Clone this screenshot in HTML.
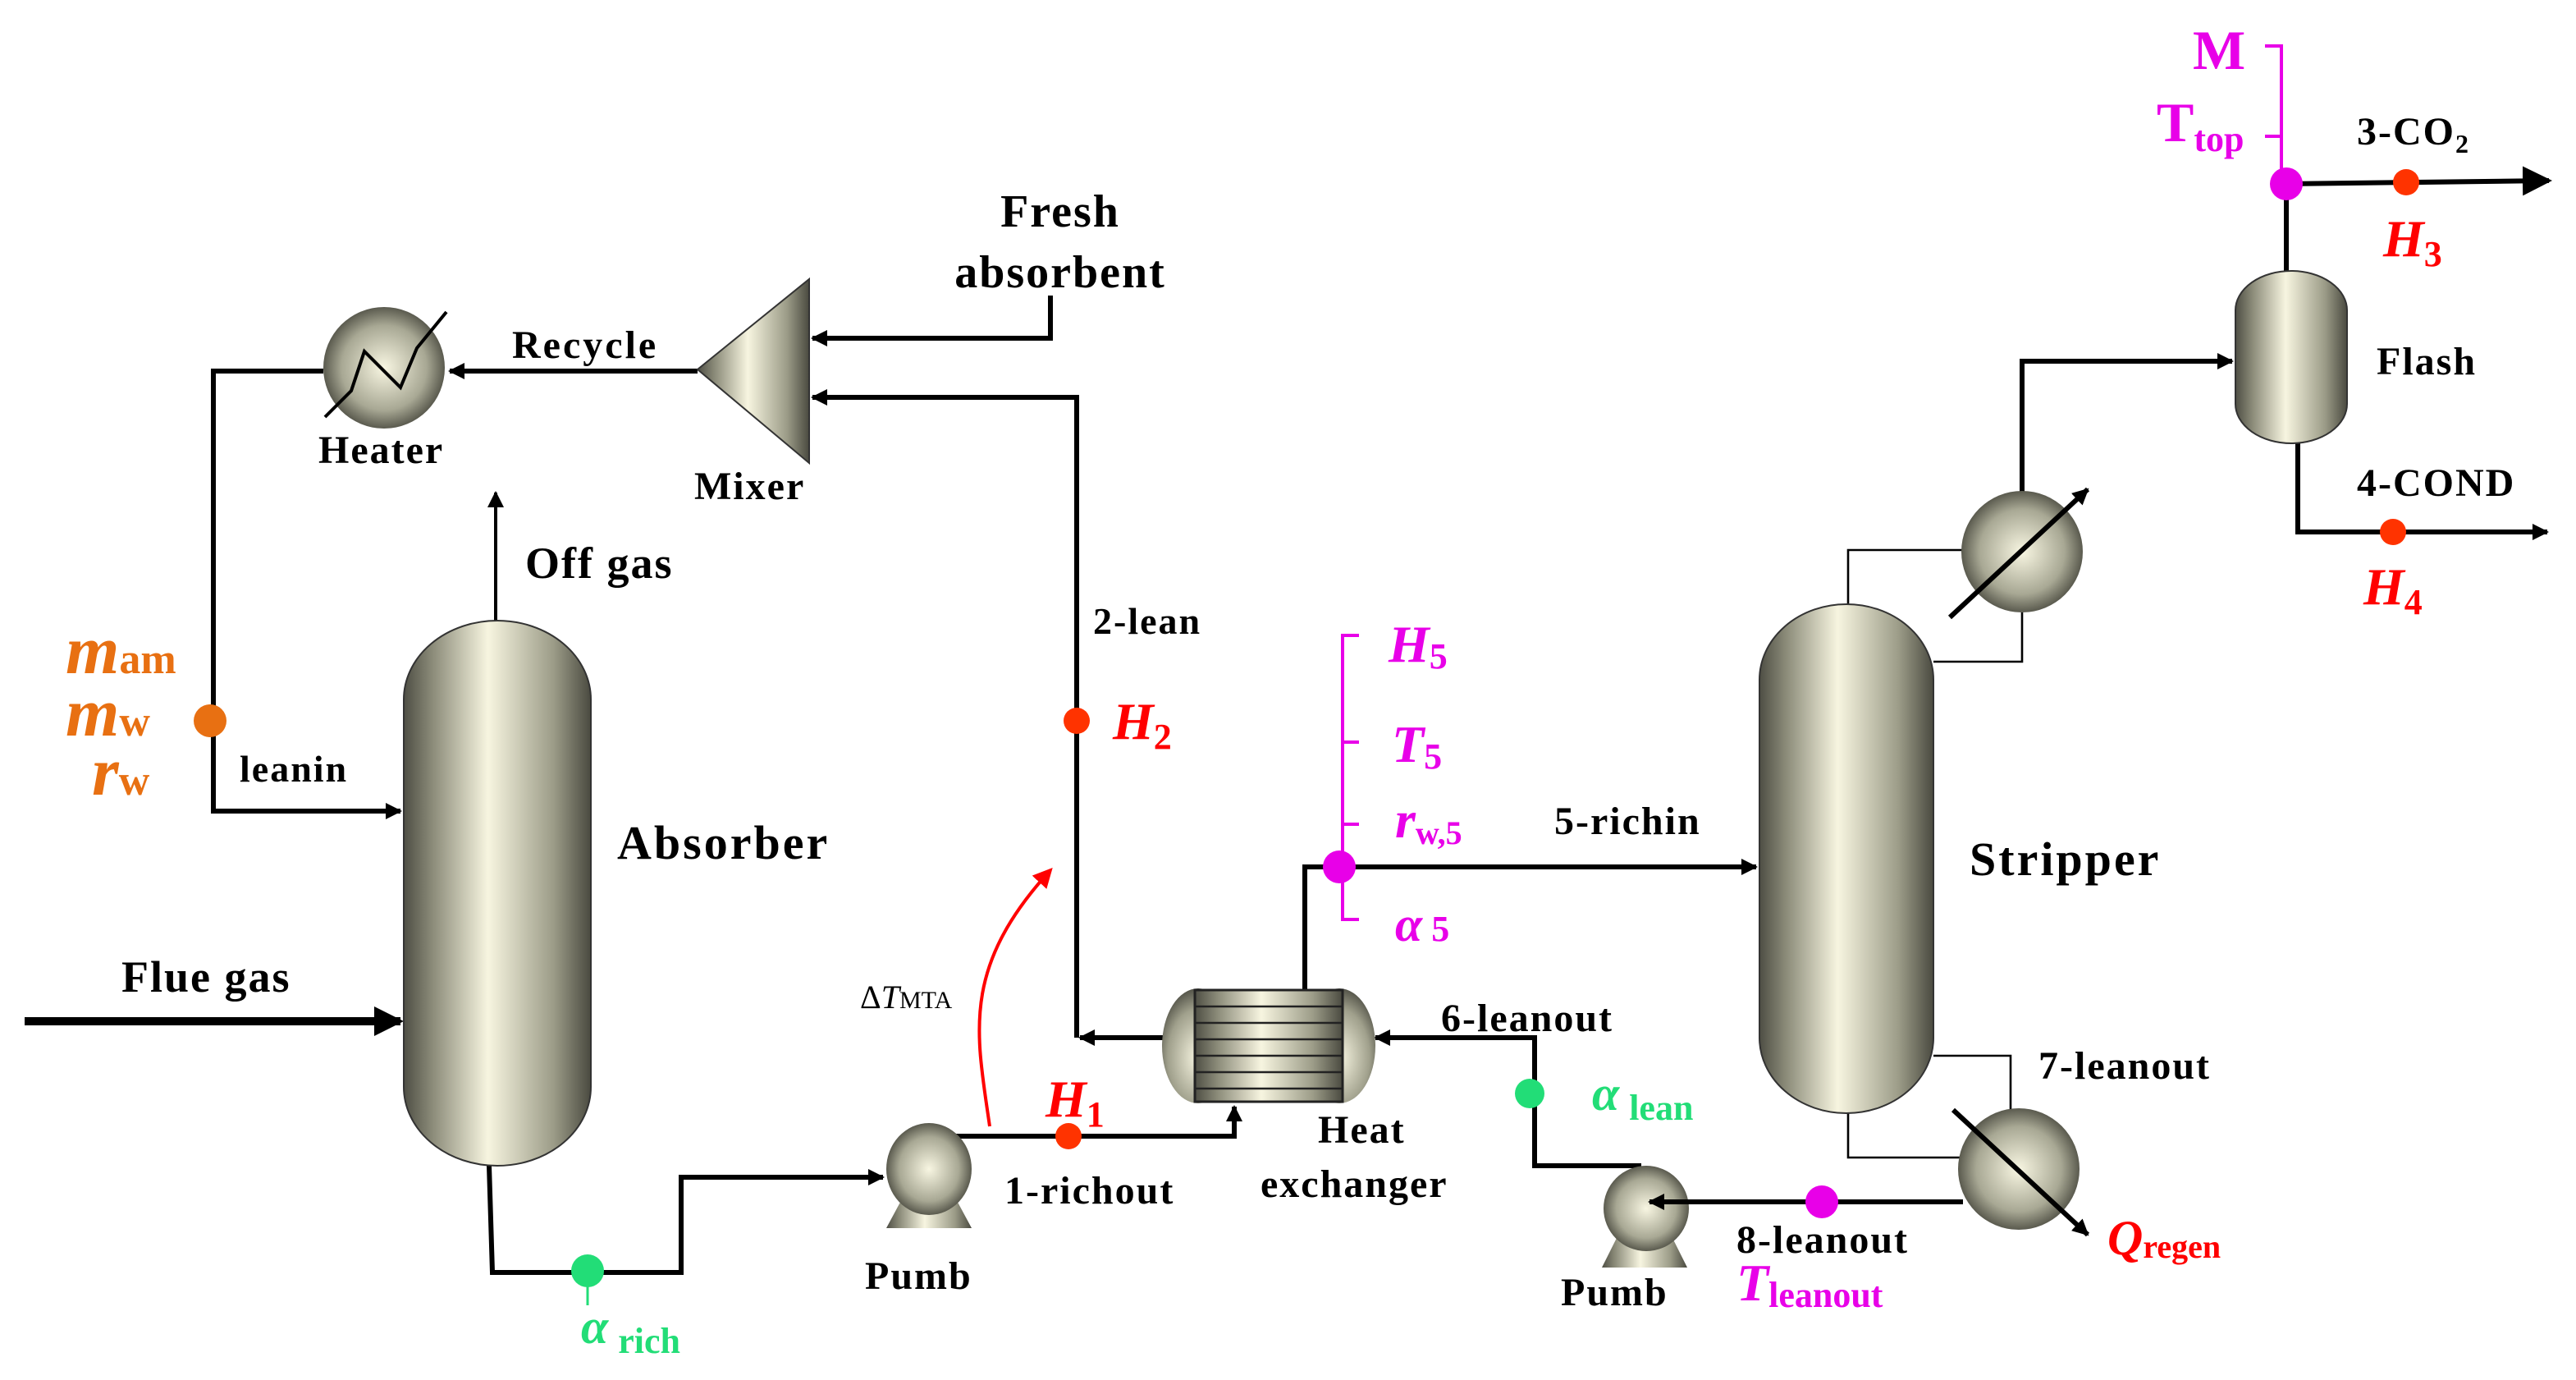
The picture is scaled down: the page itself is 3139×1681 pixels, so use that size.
<!DOCTYPE html>
<html><head><meta charset="utf-8"><style>html,body{margin:0;padding:0;background:#fff}svg{display:block}</style></head><body>
<svg width="3139" height="1681" viewBox="0 0 1569.5 840.5" xmlns="http://www.w3.org/2000/svg" font-family="Liberation Serif, serif" font-weight="bold">
<defs>
<linearGradient id="col" x1="0" x2="1" y1="0" y2="0">
<stop offset="0" stop-color="#4e4e44"/><stop offset="0.15" stop-color="#8a8a78"/><stop offset="0.45" stop-color="#f7f5e0"/><stop offset="0.8" stop-color="#9c9c88"/><stop offset="1" stop-color="#4a4a40"/></linearGradient>
<radialGradient id="sph" cx="0.5" cy="0.5" r="0.5"><stop offset="0" stop-color="#f8f6e2"/><stop offset="0.7" stop-color="#a8a894"/><stop offset="1" stop-color="#5a5a4e"/></radialGradient>
<radialGradient id="cap" cx="0.5" cy="0.6" r="0.6"><stop offset="0" stop-color="#f8f6e2"/><stop offset="0.7" stop-color="#a0a08c"/><stop offset="1" stop-color="#55554a"/></radialGradient>
<marker id="ar" markerWidth="10" markerHeight="10" refX="9" refY="5" orient="auto" markerUnits="userSpaceOnUse"><path d="M0,0 L10,5 L0,10 z" fill="#000"/></marker>
<marker id="arb" markerWidth="18" markerHeight="18" refX="16" refY="9" orient="auto" markerUnits="userSpaceOnUse"><path d="M0,0 L18,9 L0,18 z" fill="#000"/></marker>
<marker id="arr" markerWidth="12" markerHeight="12" refX="10" refY="6" orient="auto" markerUnits="userSpaceOnUse"><path d="M0,0 L12,6 L0,12 z" fill="#f00"/></marker>
</defs>
<g fill="none" stroke="#000" stroke-width="3">
<polyline points="197,226 130,226 130,494 244,494" marker-end="url(#ar)"/>
<polyline points="425,226 274,226" marker-end="url(#ar)"/>
<polyline points="640,180 640,206 495,206" marker-end="url(#ar)"/>
<polyline points="656,632 656,242 495,242" marker-end="url(#ar)"/>
<polyline points="710,632 658,632" marker-end="url(#ar)"/>
<polyline points="302,378 302,300" marker-end="url(#ar)" stroke-width="2"/>
<polyline points="15,622 244,622" marker-end="url(#arb)" stroke-width="5"/>
<polyline points="298,710 300,775 415,775 415,717 538,717" marker-end="url(#ar)"/>
<polyline points="566,692 752,692 752,674" marker-end="url(#ar)"/>
<polyline points="795,603 795,528 1070,528" marker-end="url(#ar)"/>
<polyline points="1000,710 935,710 935,632 838,632" marker-end="url(#ar)"/>
<polyline points="1232,300 1232,220 1360,220" marker-end="url(#ar)"/>
<polyline points="1393,165 1393,112 1553,110" marker-end="url(#arb)"/>
<polyline points="1400,270 1400,324 1552,324" marker-end="url(#ar)"/>
</g>
<g fill="none" stroke="#000" stroke-width="1.3">
<polyline points="1126,370 1126,335 1196,335"/>
<polyline points="1178,403 1232,403 1232,373"/>
<polyline points="1178,643 1225,643 1225,676"/>
<polyline points="1126,676 1126,705 1194,705"/>
</g>
<rect x="246" y="378" width="114" height="332" rx="57" ry="48" fill="url(#col)" stroke="#333" stroke-width="1"/>
<rect x="1072" y="368" width="106" height="310" rx="53" ry="46" fill="url(#col)" stroke="#333" stroke-width="1"/>
<rect x="1362" y="165" width="68" height="105" rx="34" ry="24" fill="url(#col)" stroke="#333" stroke-width="1"/>
<circle cx="234" cy="224" r="37" fill="url(#sph)"/>
<polyline points="198,254 214,238 222,214 244,236 254,212 272,190" fill="none" stroke="#000" stroke-width="2"/>
<polygon points="425,225 493,170 493,282" fill="url(#col)" stroke="#333"/>
<polygon points="540,748 592,748 578,722 554,722" fill="url(#col)"/>
<ellipse cx="566" cy="712" rx="26" ry="28" fill="url(#sph)"/>
<polygon points="976,772 1028,772 1014,744 990,744" fill="url(#col)"/>
<ellipse cx="1003" cy="736" rx="26" ry="26" fill="url(#sph)"/>
<polyline points="1196,732 1005,732" fill="none" stroke="#000" stroke-width="3" marker-end="url(#ar)"/>
<ellipse cx="730" cy="637" rx="22" ry="35" fill="url(#cap)"/>
<ellipse cx="816" cy="637" rx="22" ry="35" fill="url(#cap)"/>
<rect x="728" y="603" width="90" height="68" fill="url(#col)" stroke="#222" stroke-width="1.5"/>
<g stroke="#222" stroke-width="1.2"><line x1="728" y1="613" x2="818" y2="613"/><line x1="728" y1="623" x2="818" y2="623"/><line x1="728" y1="633" x2="818" y2="633"/><line x1="728" y1="643" x2="818" y2="643"/><line x1="728" y1="653" x2="818" y2="653"/><line x1="728" y1="663" x2="818" y2="663"/></g>
<circle cx="1232" cy="336" r="37" fill="url(#sph)"/>
<line x1="1188" y1="376" x2="1272" y2="298" stroke="#000" stroke-width="3" marker-end="url(#ar)"/>
<circle cx="1230" cy="712" r="37" fill="url(#sph)"/>
<line x1="1190" y1="676" x2="1272" y2="752" stroke="#000" stroke-width="3" marker-end="url(#ar)"/>
<g stroke="#e800e8" stroke-width="2" fill="none">
<polyline points="828,387 818,387 818,560 828,560"/>
<line x1="818" y1="452" x2="828" y2="452"/><line x1="818" y1="502" x2="828" y2="502"/>
<polyline points="1380,28 1390,28 1390,112"/><line x1="1380" y1="83" x2="1390" y2="83"/>
</g>
<circle cx="128" cy="439" r="10" fill="#e87012"/>
<circle cx="656" cy="439" r="8" fill="#ff3300"/>
<circle cx="358" cy="774" r="10" fill="#22dd77"/>
<line x1="358" y1="774" x2="358" y2="795" stroke="#22dd77" stroke-width="1.5"/>
<circle cx="651" cy="692" r="8" fill="#ff3300"/>
<circle cx="816" cy="528" r="10" fill="#e800e8"/>
<circle cx="932" cy="666" r="9" fill="#22dd77"/>
<circle cx="1110" cy="732" r="10" fill="#e800e8"/>
<circle cx="1393" cy="112" r="10" fill="#e800e8"/>
<circle cx="1466" cy="111" r="8" fill="#ff3300"/>
<circle cx="1458" cy="324" r="8" fill="#ff3300"/>
<path d="M603,686 C595,630 585,590 640,530" fill="none" stroke="#f00" stroke-width="2" marker-end="url(#arr)"/>
<g fill="#000" letter-spacing="1">
<text x="646" y="138" font-size="28" text-anchor="middle">Fresh</text>
<text x="646" y="175" font-size="28" text-anchor="middle">absorbent</text>
<text x="312" y="218" font-size="24" letter-spacing="1.5">Recycle</text>
<text x="194" y="282" font-size="24">Heater</text>
<text x="423" y="304" font-size="24">Mixer</text>
<text x="320" y="352" font-size="27">Off gas</text>
<text x="666" y="386" font-size="23">2-lean</text>
<text x="146" y="476" font-size="23">leanin</text>
<text x="376" y="523" font-size="29" letter-spacing="1.5">Absorber</text>
<text x="74" y="604" font-size="27">Flue gas</text>
<text x="524" y="614" font-size="20" font-weight="normal" letter-spacing="0">Δ<tspan font-style="italic">T</tspan><tspan font-size="15">MTA</tspan></text>
<text x="612" y="733" font-size="24">1-richout</text>
<text x="527" y="785" font-size="24">Pumb</text>
<text x="803" y="696" font-size="24">Heat</text>
<text x="768" y="729" font-size="24">exchanger</text>
<text x="878" y="628" font-size="24">6-leanout</text>
<text x="951" y="795" font-size="24">Pumb</text>
<text x="1058" y="763" font-size="24">8-leanout</text>
<text x="1242" y="657" font-size="24">7-leanout</text>
<text x="1200" y="533" font-size="29" letter-spacing="1.5">Stripper</text>
<text x="947" y="508" font-size="24">5-richin</text>
<text x="1448" y="228" font-size="24">Flash</text>
<text x="1436" y="88" font-size="24">3-CO<tspan font-size="16" dy="5">2</tspan></text>
<text x="1436" y="302" font-size="24">4-COND</text>
</g>
<g fill="#e87012" font-style="italic">
<text x="40" y="410" font-size="42">m<tspan font-size="26" font-style="normal">am</tspan></text>
<text x="40" y="448" font-size="42">m<tspan font-size="26" font-style="normal">w</tspan></text>
<text x="56" y="484" font-size="42">r<tspan font-size="26" font-style="normal">w</tspan></text>
</g>
<g fill="#f00" font-style="italic">
<text x="678" y="450" font-size="32">H<tspan font-size="22" font-style="normal" dy="6">2</tspan></text>
<text x="637" y="680" font-size="32">H<tspan font-size="22" font-style="normal" dy="6">1</tspan></text>
<text x="1452" y="156" font-size="32">H<tspan font-size="22" font-style="normal" dy="6">3</tspan></text>
<text x="1440" y="368" font-size="32">H<tspan font-size="22" font-style="normal" dy="6">4</tspan></text>
<text x="1284" y="764" font-size="30">Q<tspan font-size="20" font-style="normal" dy="2">regen</tspan></text>
</g>
<g fill="#e800e8">
<text x="846" y="403" font-size="32" font-style="italic">H<tspan font-size="22" font-style="normal" dy="4">5</tspan></text>
<text x="848" y="464" font-size="32" font-style="italic">T<tspan font-size="22" font-style="normal" dy="4">5</tspan></text>
<text x="850" y="510" font-size="32" font-style="italic">r<tspan font-size="20" font-style="normal" dy="4">w,5</tspan></text>
<text x="850" y="573" font-size="30" font-style="italic">α<tspan font-size="22" font-style="normal"> 5</tspan></text>
<text x="1336" y="42" font-size="34">M</text>
<text x="1314" y="86" font-size="34">T<tspan font-size="22" dy="6">top</tspan></text>
<text x="1058" y="792" font-size="32" font-style="italic">T<tspan font-size="22" font-style="normal" dy="4">leanout</tspan></text>
</g>
<g fill="#22dd77">
<text x="970" y="676" font-size="30" font-style="italic">α<tspan font-size="22" font-style="normal" dx="6" dy="6">lean</tspan></text>
<text x="354" y="818" font-size="30" font-style="italic">α<tspan font-size="22" font-style="normal" dx="6" dy="6">rich</tspan></text>
</g>
</svg>
</body></html>
